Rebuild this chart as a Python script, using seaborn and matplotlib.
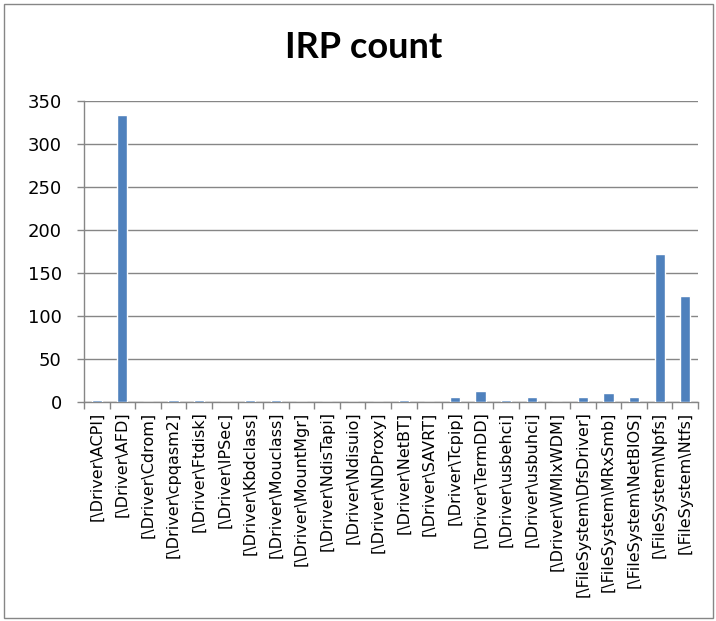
import matplotlib
matplotlib.use("Agg")
import matplotlib.pyplot as plt
import matplotlib.patches as mpatches
import pandas as pd
import seaborn as sns

# IRP counts per driver / file system device
drivers = [
    r"[\Driver\ACPI]", r"[\Driver\AFD]", r"[\Driver\Cdrom]", r"[\Driver\cpqasm2]",
    r"[\Driver\Ftdisk]", r"[\Driver\IPSec]", r"[\Driver\Kbdclass]", r"[\Driver\Mouclass]",
    r"[\Driver\MountMgr]", r"[\Driver\NdisTapi]", r"[\Driver\Ndisuio]", r"[\Driver\NDProxy]",
    r"[\Driver\NetBT]", r"[\Driver\SAVRT]", r"[\Driver\Tcpip]", r"[\Driver\TermDD]",
    r"[\Driver\usbehci]", r"[\Driver\usbuhci]", r"[\Driver\WMIxWDM]",
    r"[\FileSystem\DfsDriver]", r"[\FileSystem\MRxSmb]", r"[\FileSystem\NetBIOS]",
    r"[\FileSystem\Npfs]", r"[\FileSystem\Ntfs]",
]
irp_counts = [2, 333, 0, 2, 2, 0, 2, 2, 0, 0, 0, 0, 2, 0, 5, 13, 2, 5, 0, 5, 10, 5, 172, 123]
y_ticks = [0, 50, 100, 150, 200, 250, 300, 350]

df = pd.DataFrame({"driver": drivers, "count": irp_counts})

sns.set_theme(style="white")
plt.rcParams["font.family"] = ["DejaVu Sans"]

W, H = 716, 621
fig = plt.figure(figsize=(W / 100, H / 100), dpi=100)
ax = fig.add_axes([84 / W, 1 - 401.7 / H, (698 - 84) / W, (401.7 - 100.7) / H])

grid_color = "#868686"
sns.barplot(data=df, x="driver", y="count", color="#4F81BD", width=0.4,
            saturation=1, ax=ax, zorder=3)

ax.set_ylim(0, 350)
ax.set_xlim(-0.5, len(drivers) - 0.5)
ax.set_yticks(y_ticks)
ax.set_yticklabels([str(v) for v in y_ticks], fontsize=13, color="black")
ax.yaxis.grid(True, color=grid_color, linewidth=1, zorder=0)
ax.set_axisbelow(True)

# category labels at bar centres, tick marks at category boundaries
ax.set_xticks(range(len(drivers)))
ax.set_xticklabels(drivers, rotation=90, fontsize=11.5, color="black")
ax.set_xticks([i - 0.5 for i in range(len(drivers) + 1)], minor=True)
ax.tick_params(axis="x", which="major", length=0, pad=7)
ax.tick_params(axis="x", which="minor", length=5, width=1, color=grid_color,
               direction="out", bottom=True)
ax.tick_params(axis="y", length=5, width=1, color=grid_color, direction="out",
               left=True, pad=11)

for side in ("top", "right"):
    ax.spines[side].set_visible(False)
for side in ("left", "bottom"):
    ax.spines[side].set_color(grid_color)
    ax.spines[side].set_linewidth(1)

ax.set_xlabel("")
ax.set_ylabel("")

fig.text(364 / W, 1 - 47 / H, "IRP count", ha="center", va="center",
         fontsize=26, fontweight="bold", color="black",
         family=["Lato", "DejaVu Sans"])

# chart frame
fig.patches.append(mpatches.Rectangle((4 / W, 3 / H), (709 / W), (614 / H),
                                      transform=fig.transFigure, fill=False,
                                      edgecolor=grid_color, linewidth=1))

fig.savefig("out.png", dpi=100, facecolor="white")
